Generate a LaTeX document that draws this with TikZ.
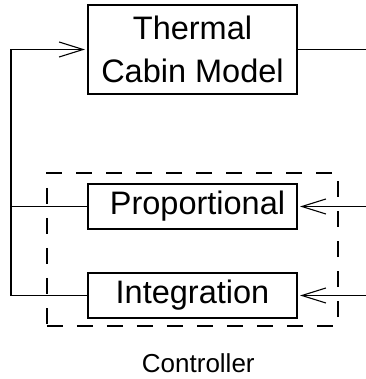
\documentclass[tikz,border=0pt]{standalone}
\usepackage{fontspec}
\setmainfont{Liberation Sans}
\usetikzlibrary{arrows.meta}
\begin{document}
\begin{tikzpicture}[x=1bp,y=1bp,
  blk/.style={draw,line width=1.1bp,minimum width=209bp,inner sep=0pt,
    font=\fontsize{32.5bp}{43bp}\selectfont,align=center},
  conn/.style={line width=1.1bp},
  arr/.style={conn,-{Straight Barb[length=24bp,width=15bp,line width=1.1bp]},shorten >=2.5bp},
  grp/.style={draw,line width=1.1bp,dash pattern=on 16bp off 14bp,inner sep=0pt}]
\useasboundingbox (0,0) rectangle (366,379);
\node[blk,minimum height=89bp] (tcm) at (192.5,329.5) {Thermal\\Cabin Model};
\node[blk,minimum height=45bp] (prop) at (192.5,172.5) {\hspace{10bp}Proportional};
\node[blk,minimum height=45bp] (intg) at (192.5,83.5) {Integration};
\node[grp,minimum width=291bp,minimum height=153bp] (ctrl) at (192.5,129.5) {};
\node[font=\fontsize{26bp}{30bp}\selectfont,anchor=base] (lab) at (198.3,6.3) {Controller};
\coordinate (fbtop) at (11,329.5);
\coordinate (fbmid) at (11,172.5);
\coordinate (fbbot) at (11,83.5);
\coordinate (out) at (366,329.5);
\coordinate (inp) at (366,172.5);
\coordinate (ini) at (366,83.5);
\draw[conn] (intg.west) -- (fbbot) -- (fbmid) -- (fbtop);
\draw[arr] (fbtop) -- (tcm.west);
\draw[conn] (prop.west) -- (fbmid);
\draw[conn] (tcm.east) -- (out);
\draw[arr] (inp) -- (prop.east);
\draw[arr] (ini) -- (intg.east);
\end{tikzpicture}
\end{document}
